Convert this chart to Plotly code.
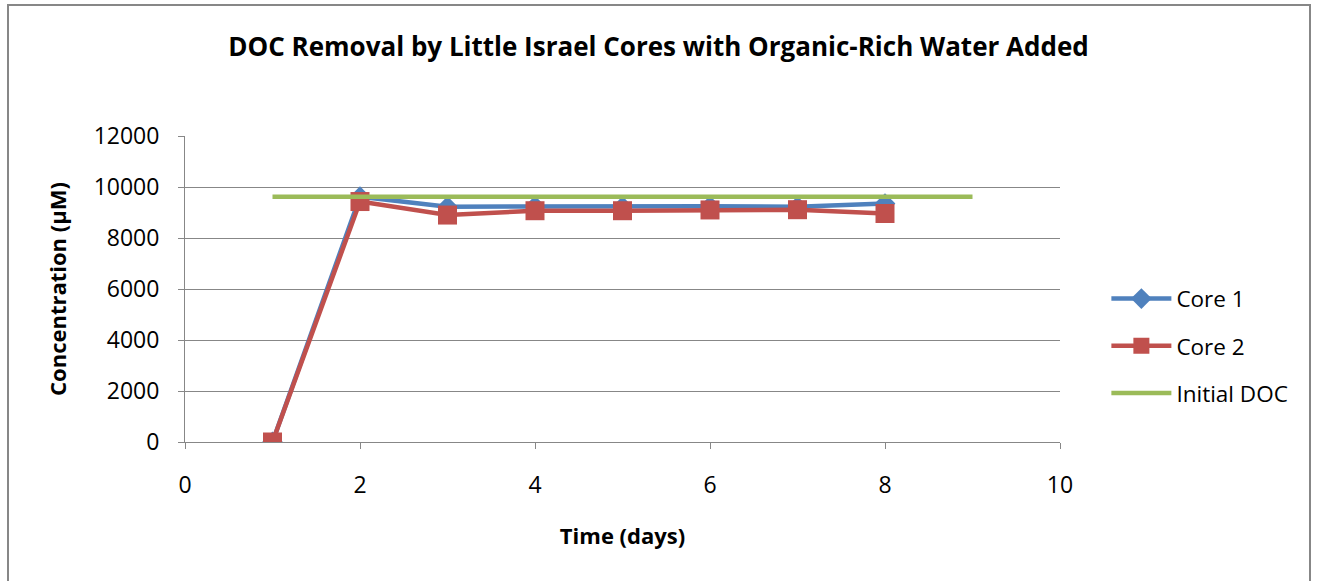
import plotly.graph_objects as go

days = [1, 2, 3, 4, 5, 6, 7, 8]
core1 = [0, 9620, 9230, 9250, 9230, 9250, 9230, 9350]
core2 = [0, 9430, 8900, 9070, 9070, 9100, 9110, 8960]
initial_days = [1, 9]
initial_doc = [9620, 9620]
x_ticks = [0, 2, 4, 6, 8, 10]
y_ticks = [0, 2000, 4000, 6000, 8000, 10000, 12000]

FONT = "Open Sans"
fig = go.Figure()
fig.add_trace(go.Scatter(x=days, y=core1, name="Core 1", mode="lines+markers",
                         legendgroup="a",
                         line=dict(color="#4F81BD", width=4.5),
                         marker=dict(symbol="diamond", size=16, color="#4F81BD")))
fig.add_trace(go.Scatter(x=days, y=core2, name="Core 2", mode="lines+markers",
                         legendgroup="b",
                         line=dict(color="#C0504D", width=4.5),
                         marker=dict(symbol="square", size=19, color="#C0504D")))
fig.add_trace(go.Scatter(x=initial_days, y=initial_doc, name="Initial DOC", mode="lines",
                         legendgroup="c",
                         line=dict(color="#9BBB59", width=4.5)))

fig.update_layout(
    width=1317, height=581,
    margin=dict(l=185, r=257, t=136, b=139),
    paper_bgcolor="white", plot_bgcolor="white",
    font=dict(family=FONT, size=22, color="black"),
    title=dict(text="<b>DOC Removal by Little Israel Cores with Organic-Rich Water Added</b>",
               x=0.5, xanchor="center", y=0.919, yanchor="middle",
               font=dict(family=FONT, size=26, color="black")),
    xaxis=dict(range=[0, 10], tickvals=x_ticks, ticktext=[str(v) for v in x_ticks],
               showgrid=False,
               showline=True, linecolor="#878787", linewidth=1,
               ticks="outside", ticklen=6, tickcolor="#878787",
               zeroline=False, tickfont=dict(size=23), ticklabelstandoff=16,
               title=dict(text="<b>Time (days)</b>", standoff=30,
                          font=dict(family=FONT, size=22))),
    yaxis=dict(range=[0, 12000], tickvals=y_ticks, ticktext=[str(v) for v in y_ticks],
               showgrid=True, gridcolor="#878787", gridwidth=1,
               showline=True, linecolor="#878787", linewidth=1,
               ticks="outside", ticklen=6, tickcolor="#878787",
               zeroline=False, tickfont=dict(size=23), ticklabelstandoff=14,
               title=dict(text="<b>Concentration (µM)</b>", standoff=20,
                          font=dict(family=FONT, size=22))),
    legend=dict(x=1.053, y=0.314, xanchor="left", yanchor="middle",
                font=dict(family=FONT, size=22.5), itemwidth=60,
                traceorder="grouped", tracegroupgap=15, bgcolor="rgba(0,0,0,0)"),
    showlegend=True,
)
# outer chart border (paper fractions relative to plot area)
fig.add_shape(type="rect", xref="paper", yref="paper",
              x0=(8 - 185) / 875, x1=(1310 - 185) / 875,
              y0=(442 - 600) / 306, y1=(442 - 5) / 306,
              line=dict(color="#878787", width=2), fillcolor="rgba(0,0,0,0)", layer="below")

fig.write_html("out.html", config={"displayModeBar": False},
               post_script="document.body.style.margin='0';document.body.style.overflow='hidden';")
